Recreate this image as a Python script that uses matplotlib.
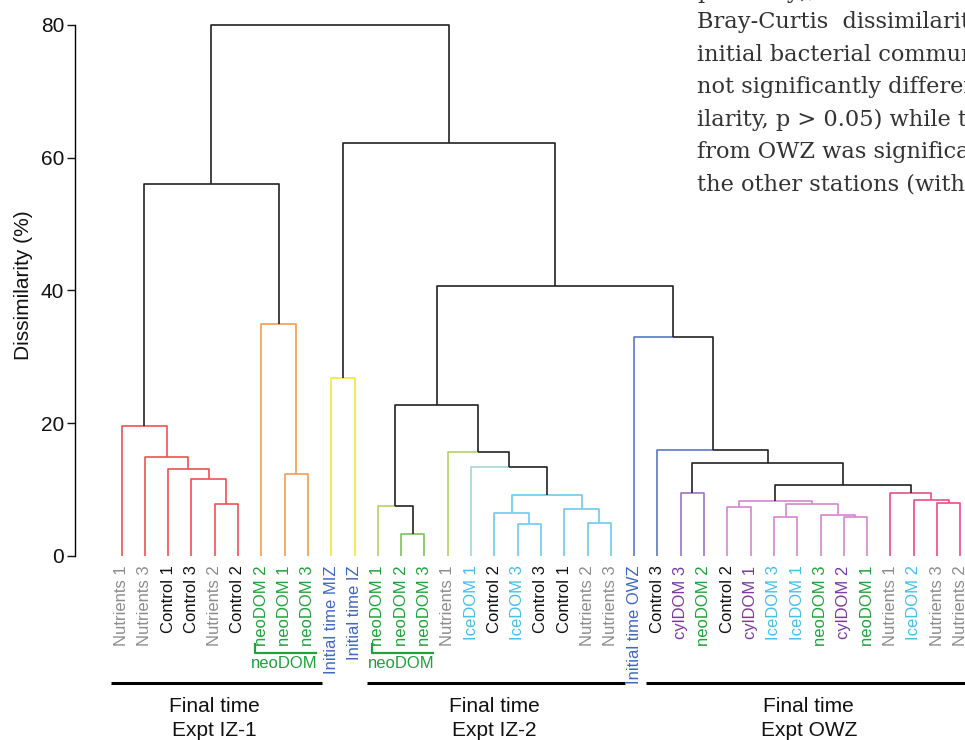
import matplotlib
matplotlib.use('Agg')
import matplotlib.pyplot as plt

plt.rcParams['font.family'] = ['Liberation Sans', 'DejaVu Sans']

# ---------- data ----------
leaf_labels = [
    'Nutrients 1', 'Nutrients 3', 'Control 1', 'Control 3', 'Nutrients 2', 'Control 2',
    'neoDOM 2', 'neoDOM 1', 'neoDOM 3',
    'Initial time MIZ', 'Initial time IZ',
    'neoDOM 1', 'neoDOM 2', 'neoDOM 3', 'Nutrients 1', 'IceDOM 1', 'Control 2', 'IceDOM 3',
    'Control 3', 'Control 1', 'Nutrients 2', 'Nutrients 3',
    'Initial time OWZ',
    'Control 3', 'cylDOM 3', 'neoDOM 2', 'Control 2', 'cylDOM 1', 'IceDOM 3', 'IceDOM 1',
    'neoDOM 3', 'cylDOM 2', 'neoDOM 1', 'Nutrients 1', 'IceDOM 2', 'Nutrients 3', 'Nutrients 2',
]

# merges: (child a, child b, dissimilarity %); new node ids start at len(leaf_labels)
merges = [
    (4, 5, 7.8), (3, 37, 11.5), (2, 38, 13.0), (1, 39, 14.9), (0, 40, 19.6),      # 37-41
    (7, 8, 12.3), (6, 42, 34.9), (41, 43, 56.1),                                   # 42-44
    (9, 10, 26.8),                                                                 # 45
    (12, 13, 3.2), (11, 46, 7.5), (17, 18, 4.8), (16, 48, 6.4), (20, 21, 5.0),     # 46-50
    (19, 50, 7.1), (49, 51, 9.2), (15, 52, 13.4), (14, 53, 15.7), (47, 54, 22.7),  # 51-55
    (24, 25, 9.5), (26, 27, 7.4), (28, 29, 5.8), (31, 32, 5.8), (30, 59, 6.1),     # 56-60
    (58, 60, 7.8), (57, 61, 8.3), (35, 36, 7.9), (34, 63, 8.4), (33, 64, 9.4),     # 61-65
    (62, 65, 10.6), (56, 66, 14.0), (23, 67, 16.0), (22, 68, 32.9),                # 66-69
    (55, 69, 40.6), (45, 70, 62.2), (44, 71, 80.0),                                # 70-72
]

# coloured clusters: cluster root -> branch colour (edges below the root)
cluster_colors = {
    41: '#f0524f', 43: '#f89b4c', 45: '#f2e835', 46: '#7cc35a',
    52: '#6ccbf0', 56: '#9b73c6', 62: '#d884d0', 65: '#ee4d84',
}
# single leaves with their own coloured branch
leaf_branch_colors = {11: '#b3d366', 14: '#b3d366', 15: '#a3d9cd', 22: '#5a78c6', 23: '#5a78c6'}

groups = [('Final time\nExpt IZ-1', 0, 8), ('Final time\nExpt IZ-2', 11, 21),
          ('Final time\nExpt OWZ', 23, 36)]
neodom_brackets = [(6, 8), (11, 13)]

label_colors = {'Nutrients': '#8c8c8c', 'Control': '#111111', 'neoDOM': '#1fa23b',
                'Initial': '#3d68c2', 'IceDOM': '#45bfe9', 'cylDOM': '#7c3a9f'}

# ---------- tree geometry ----------
n = len(leaf_labels)
xpos = {i: float(i) for i in range(n)}
height = {i: 0.0 for i in range(n)}
parent = {}
children = {}
for k, (a, b, h) in enumerate(merges):
    node = n + k
    xpos[node] = (xpos[a] + xpos[b]) / 2
    height[node] = h
    parent[a] = node
    parent[b] = node
    children[node] = (a, b)

edge_color = {}
def paint(node, col):
    for c in children.get(node, ()):
        edge_color[c] = col
        paint(c, col)
for root, col in cluster_colors.items():
    paint(root, col)
edge_color.update(leaf_branch_colors)

# ---------- figure ----------
W, H = 965, 740
fig = plt.figure(figsize=(W / 100, H / 100), dpi=100)
y0_px, y80_px, x_axis_px = 555.7, 25.0, 75.0
ax = fig.add_axes([x_axis_px / W, 1 - y0_px / H, (W - x_axis_px) / W, (y0_px - y80_px) / H])
step = 23.3
ax.set_xlim((x_axis_px - 121.5) / step, (W - 121.5) / step)
ax.set_ylim(0, 80)

for node, p in parent.items():
    col = edge_color.get(node, '#222222')
    ax.plot([xpos[node], xpos[node], xpos[p]], [height[node], height[p], height[p]],
            color=col, lw=1.2, solid_capstyle='butt', clip_on=False)

for i, lab in enumerate(leaf_labels):
    col = label_colors[lab.split()[0]]
    ax.annotate(lab, xy=(i, 0), xytext=(0, -7), textcoords='offset points',
                rotation=90, ha='center', va='top', fontsize=12, color=col)

tr = ax.get_xaxis_transform()
for lo, hi in neodom_brackets:
    ax.plot([lo - 0.25, lo - 0.25, hi + 0.35], [-0.166, -0.1833, -0.1833], transform=tr,
            color='#1fa23b', lw=1.6, clip_on=False)
    ax.text((lo + hi) / 2, -0.204, 'neoDOM', transform=tr, ha='center', va='center',
            fontsize=12, color='#1fa23b')

for text, lo, hi in groups:
    ax.plot([lo - 0.47, hi + 0.6], [-0.24, -0.24], transform=tr, color='black', lw=2.2,
            solid_capstyle='butt', clip_on=False)
    ax.text((lo + hi) / 2, -0.3069, text, transform=tr, ha='center', va='center',
            fontsize=15, linespacing=1.3, color='#111111')

ax.spines['top'].set_visible(False)
ax.spines['right'].set_visible(False)
ax.spines['bottom'].set_visible(False)
ax.spines['left'].set_linewidth(1.0)
ax.set_xticks([])
ax.set_yticks([0, 20, 40, 60, 80])
ax.tick_params(axis='y', length=5.8, width=1.0, labelsize=15, pad=2, colors='#111111')
ax.set_ylabel('Dissimilarity (%)', fontsize=15, color='#111111')
ax.yaxis.set_label_coords((33 - x_axis_px) / (W - x_axis_px), 0.51)

# body text of the page, cut at the right edge
page_lines = ['pectively),', 'Bray-Curtis  dissimilarity', 'initial bacterial community',
              'not significantly different', 'ilarity, p > 0.05) while the',
              'from OWZ was significantly', 'the other stations (with']
for k, line in enumerate(page_lines):
    base_px = -4.6 + 32.6 * k if k else -2.5
    fig.text(697 / W, 1 - base_px / H, line, fontsize=16.2, family='DejaVu Serif',
             color='#333333', va='baseline', ha='left')

fig.savefig('out.png', dpi=100)
